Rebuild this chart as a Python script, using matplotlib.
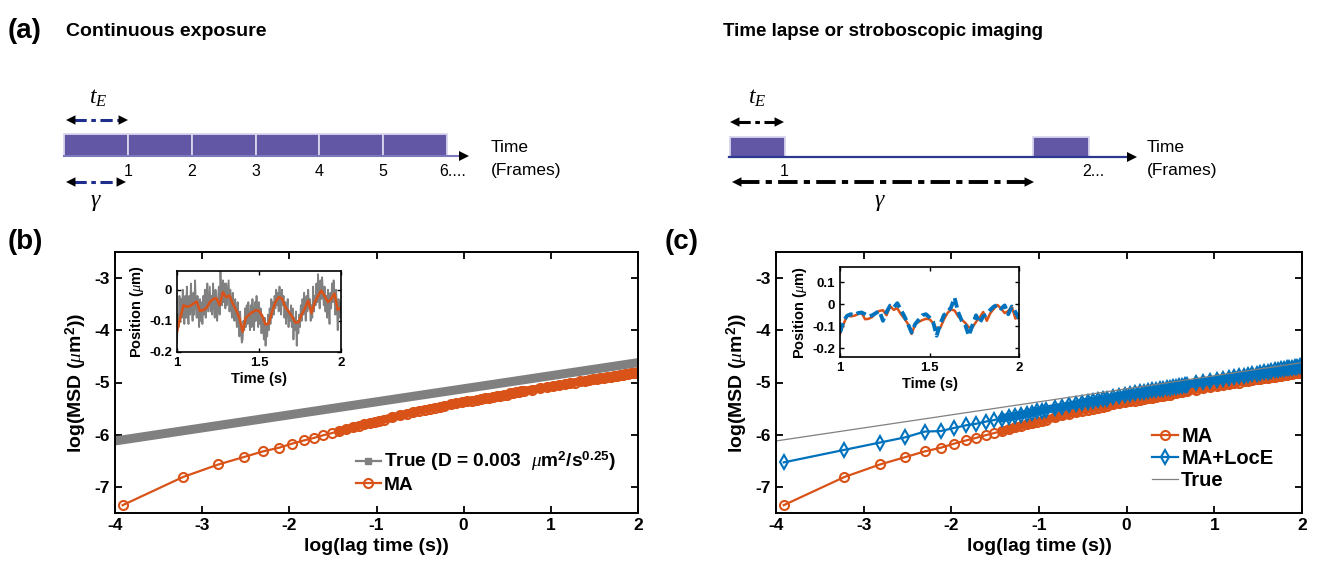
import numpy as np
import matplotlib
matplotlib.use("Agg")
import matplotlib.pyplot as plt
from matplotlib.patches import Rectangle
from matplotlib.lines import Line2D

plt.rcParams['font.family'] = ['Liberation Sans', 'DejaVu Sans']
plt.rcParams['mathtext.fontset'] = 'custom'
plt.rcParams['mathtext.rm'] = 'Liberation Sans'
plt.rcParams['mathtext.it'] = 'Liberation Serif:italic'
plt.rcParams['mathtext.bf'] = 'Liberation Sans:bold'
plt.rcParams['axes.unicode_minus'] = False

# ---- data ----
DT = 0.02  # s per frame
lag_frames = [1, 2, 3, 4, 5, 6, 7, 8, 9, 10, 11, 12, 13, 14, 15, 16, 17, 18, 19, 20,
              22, 24, 26, 28, 30, 32, 34, 36, 38, 40,
              43, 46, 49, 52, 55, 58, 61, 64, 67, 70, 73, 76, 79, 82, 85, 88, 91, 94, 97, 100,
              110, 120, 130, 140, 150, 160, 170, 180, 190, 200, 210, 220, 230, 240, 250,
              260, 270, 280, 290, 300, 310, 320, 330, 340, 350, 360, 369]

ma_logmsd = [-7.35, -6.81, -6.57, -6.43, -6.32, -6.25, -6.17, -6.11, -6.06, -6.01,
             -5.97, -5.93, -5.90, -5.86, -5.83, -5.80, -5.78, -5.75, -5.73, -5.71,
             -5.67, -5.63, -5.60, -5.57, -5.54, -5.52, -5.50, -5.48, -5.47, -5.45,
             -5.42, -5.40, -5.38, -5.36, -5.35, -5.33, -5.31, -5.30, -5.29, -5.27,
             -5.26, -5.25, -5.24, -5.23, -5.21, -5.20, -5.19, -5.18, -5.17, -5.16,
             -5.14, -5.11, -5.09, -5.07, -5.05, -5.03, -5.01, -5.00, -4.98, -4.97,
             -4.95, -4.94, -4.93, -4.92, -4.91, -4.90, -4.89, -4.88, -4.87, -4.86,
             -4.85, -4.84, -4.83, -4.82, -4.82, -4.81, -4.80]

locE_logmsd = [-6.53, -6.29, -6.15, -6.05, -5.94, -5.93, -5.87, -5.82, -5.79, -5.75,
               -5.72, -5.69, -5.66, -5.64, -5.62, -5.60, -5.58, -5.55, -5.54, -5.52,
               -5.49, -5.47, -5.44, -5.42, -5.39, -5.37, -5.36, -5.34, -5.32, -5.31,
               -5.28, -5.26, -5.24, -5.22, -5.21, -5.19, -5.18, -5.16, -5.15, -5.14,
               -5.13, -5.12, -5.11, -5.10, -5.09, -5.08, -5.07, -5.06, -5.05, -5.04,
               -5.01, -4.99, -4.97, -4.95, -4.93, -4.91, -4.90, -4.88, -4.87, -4.85,
               -4.84, -4.83, -4.82, -4.80, -4.79, -4.78, -4.77, -4.76, -4.75, -4.74,
               -4.73, -4.73, -4.72, -4.71, -4.70, -4.69, -4.69]

true_logt = [-4.0, -3.0, -2.0, -1.0, 0.0, 1.0, 2.0]
true_logmsd = [-6.12, -5.87, -5.62, -5.37, -5.12, -4.87, -4.62]

# inset traces, 1-2 s
ma_trace = [-0.135, -0.09, -0.05, -0.055, -0.052, -0.045, -0.038, -0.068, -0.066, -0.058,
            -0.04, -0.03, -0.027, -0.05, -0.008, -0.025, -0.018, -0.045, -0.065, -0.09,
            -0.135, -0.09, -0.08, -0.072, -0.066, -0.068, -0.085, -0.112, -0.108, -0.07,
            -0.04, -0.024, -0.028, -0.055, -0.07, -0.085, -0.105, -0.105, -0.08, -0.06,
            -0.035, -0.075, -0.04, -0.02, -0.003, -0.02, -0.04, -0.03, -0.012, -0.065,
            -0.058]
locE_trace = [-0.128, -0.075, -0.052, -0.045, -0.05, -0.04, -0.037, -0.045, -0.055, -0.05,
              -0.04, -0.03, -0.075, -0.035, -0.006, -0.015, 0.005, -0.025, -0.055, -0.09,
              -0.128, -0.09, -0.07, -0.05, -0.045, -0.06, -0.08, -0.143, -0.09, -0.05,
              -0.035, -0.015, 0.03, -0.035, -0.075, -0.095, -0.143, -0.095, -0.05, -0.085,
              -0.055, -0.045, -0.025, -0.01, -0.003, -0.02, -0.005, -0.045, -0.01, -0.035,
              -0.065]
raw_trace = [-0.17, -0.08, -0.12, -0.02, -0.10, -0.03, -0.09, 0.00, -0.07, -0.11,
             -0.02, -0.09, 0.01, -0.06, -0.11, -0.02, -0.08, 0.02, -0.05, -0.10,
             -0.01, -0.08, 0.03, -0.04, -0.09, -0.02, -0.06, -0.12, -0.03, -0.10,
             -0.04, -0.11, -0.02, -0.08, 0.00, -0.09, -0.05, 0.02, -0.07, -0.03,
             0.01, -0.07, -0.02, -0.08, 0.02, -0.04, -0.09, 0.00, -0.06, -0.10,
             -0.03, 0.01, -0.08, 0.06, -0.02, -0.05, 0.03, -0.04, 0.02, -0.06,
             0.02, -0.05, -0.01, 0.03, -0.07, 0.00, -0.04, -0.09, -0.01, -0.06,
             -0.10, -0.03, -0.08, -0.12, -0.04, -0.10, -0.15, -0.07, -0.13, -0.17,
             -0.16, -0.10, -0.13, -0.06, -0.12, -0.05, -0.11, -0.04, -0.10, -0.13,
             -0.05, -0.12, -0.03, -0.09, -0.13, -0.04, -0.10, -0.02, -0.08, -0.12,
             -0.04, -0.11, -0.06, -0.14, -0.08, -0.12, -0.16, -0.09, -0.18, -0.11,
             -0.15, -0.08, -0.13, -0.06, -0.11, -0.03, -0.09, -0.04, -0.08, -0.02,
             -0.06, 0.00, -0.05, -0.01, -0.07, 0.01, -0.04, -0.08, 0.00, -0.05,
             -0.02, -0.09, -0.04, -0.11, -0.06, -0.03, -0.12, -0.07, -0.10, -0.05,
             -0.12, -0.06, -0.16, -0.09, -0.13, -0.07, -0.18, -0.10, -0.14, -0.08,
             -0.12, -0.05, -0.10, -0.03, -0.08, -0.01, -0.06, -0.10, -0.02, -0.07,
             0.00, -0.06, -0.03, -0.10, -0.05, -0.09, 0.01, -0.07, -0.02, -0.05,
             0.02, -0.04, 0.05, -0.02, -0.06, 0.03, -0.03, 0.04, -0.01, -0.05,
             0.01, -0.07, -0.02, -0.09, 0.00, -0.05, -0.11, -0.01, -0.06, 0.02,
             -0.04, 0.03, -0.02, -0.08, 0.00, -0.05, -0.13, -0.03, -0.09, -0.04,
             -0.07]

frame_labels_cont = ['1', '2', '3', '4', '5', '6....']
frame_labels_lapse = ['1', '2...']

ORANGE = '#D95319'
BLUE = '#0072BD'
GRAY = '#808080'
PURPLE = '#6257A5'

log_lag = np.log(DT * np.array(lag_frames))
t_ma = np.linspace(1, 2, len(ma_trace))
t_raw = np.linspace(1, 2, len(raw_trace))
DENSE = 11  # from this index on the markers merge into one band

W, H = 1338, 573
fig = plt.figure(figsize=(W / 100, H / 100), dpi=100)


def fbox(l, t, r, b):
    return [l / W, 1 - b / H, (r - l) / W, (b - t) / H]


# ---- panel (a): schematic ----
ax_a = fig.add_axes([0, 1 - 230 / H, 1, 230 / H])
ax_a.set_xlim(0, W)
ax_a.set_ylim(230, 0)
ax_a.axis('off')


def head(x_tip, y, d, size=17):
    ax_a.annotate('', xy=(x_tip, y), xytext=(x_tip - d * 10, y),
                  arrowprops=dict(arrowstyle='-|>', color='k', lw=0,
                                  mutation_scale=size, shrinkA=0, shrinkB=0))


def dbl_arrow(x0, x1, y, color, lw, ls):
    ax_a.plot([x0 + 8, x1 - 8], [y, y], color=color, lw=lw, linestyle=ls)
    head(x0, y, -1)
    head(x1, y, 1)


ax_a.text(8, 31, '(a)', fontsize=20, fontweight='bold', va='center')
ax_a.text(66, 32, 'Continuous exposure', fontsize=14, fontweight='bold', va='center')
ax_a.text(723, 32, 'Time lapse or stroboscopic imaging', fontsize=13.5,
          fontweight='bold', va='center')

# continuous exposure
bw = (447 - 64) / len(frame_labels_cont)
ax_a.plot([64, 460], [156, 156], color='#7D77BC', lw=1.5)
head(469, 156, 1, 18)
for i, lab in enumerate(frame_labels_cont):
    ax_a.add_patch(Rectangle((64 + i * bw, 134), bw, 21.5, fc=PURPLE,
                             ec='#D8D5EC', lw=1.3))
    ax_a.text(64 + (i + 1) * bw + (6 if lab.endswith('.') else 0), 172, lab,
              fontsize=11.5, ha='center', va='center')
ax_a.text(491, 147, 'Time', fontsize=12.5, va='center')
ax_a.text(491, 170, '(Frames)', fontsize=12.5, va='center')
dbl_arrow(66, 128, 120, '#1F2E8C', 2.2, (0, (4, 1.5, 1.5, 1.5)))
dbl_arrow(66, 126, 182, '#1F2E8C', 2.2, (0, (4, 1.5, 1.5, 1.5)))
ax_a.text(98, 98, r'$t_E$', fontsize=17, ha='center', va='center')
ax_a.text(96, 202, r'$\gamma$', fontsize=17, ha='center', va='center')

# time lapse
ax_a.plot([729, 1128], [157, 157], color='#2B3990', lw=1.6)
head(1137, 157, 1, 18)
for i, lab in enumerate(frame_labels_lapse):
    x0 = 729.5 + i * 303.5
    ax_a.add_patch(Rectangle((x0, 136.5), 55.5, 20.5, fc=PURPLE, ec='#D8D5EC', lw=1.3))
ax_a.text(784, 172, frame_labels_lapse[0], fontsize=11.5, ha='center', va='center')
ax_a.text(1093, 172, frame_labels_lapse[1], fontsize=11.5, ha='center', va='center')
ax_a.text(1147, 147, 'Time', fontsize=12.5, va='center')
ax_a.text(1147, 170, '(Frames)', fontsize=12.5, va='center')
dbl_arrow(730, 784, 122, 'k', 2.2, (0, (4, 1.5, 1.5, 1.5)))
dbl_arrow(732, 1034, 182, 'k', 2.8, (0, (5, 1.6, 1.6, 1.6)))
ax_a.text(757, 98, r'$t_E$', fontsize=17, ha='center', va='center')
ax_a.text(880, 202, r'$\gamma$', fontsize=17, ha='center', va='center')


# ---- panels (b) and (c) ----
def style_main(ax):
    ax.set_xlim(-4, 2)
    ax.set_ylim(-7.5, -2.5)
    ax.set_xticks([-4, -3, -2, -1, 0, 1, 2])
    ax.set_yticks([-7, -6, -5, -4, -3])
    ax.tick_params(direction='in', top=True, right=True, length=5, width=1.3,
                   labelsize=12.5)
    for lab in ax.get_xticklabels() + ax.get_yticklabels():
        lab.set_fontweight('bold')
    for s in ax.spines.values():
        s.set_linewidth(1.4)
    ax.set_xlabel('log(lag time (s))', fontsize=14, fontweight='bold', labelpad=4)
    ax.set_ylabel(r'log(MSD ($\mu$m$^{\mathbf{2}}$))', fontsize=14,
                  fontweight='bold', labelpad=4)


def style_inset(ax, yticks, ylabels, ylim):
    ax.set_xlim(1, 2)
    ax.set_ylim(*ylim)
    ax.set_xticks([1, 1.5, 2])
    ax.set_xticklabels(['1', '1.5', '2'])
    ax.set_yticks(yticks)
    ax.set_yticklabels(ylabels)
    ax.tick_params(direction='in', top=True, right=True, length=3, width=1.0,
                   labelsize=9.5)
    for lab in ax.get_xticklabels() + ax.get_yticklabels():
        lab.set_fontweight('bold')
    for s in ax.spines.values():
        s.set_linewidth(1.2)
    ax.set_xlabel('Time (s)', fontsize=10.5, fontweight='bold', labelpad=2)
    ax.set_ylabel(r'Position ($\mu$m)', fontsize=10.5, fontweight='bold', labelpad=2)


def msd_series(ax, y, color, marker, ms, label):
    # dense tail of overlapping markers appears as one solid band
    ax.plot(log_lag[DENSE:], y[DENSE:], color=color, lw=6.0,
            solid_capstyle='round', solid_joinstyle='round')
    line, = ax.plot(log_lag, y, color=color, lw=1.6, marker=marker, ms=ms,
                    mfc='none', mew=1.5, label=label)
    return line


legend_kw = dict(bbox_transform=fig.transFigure, frameon=False, borderpad=0,
                 borderaxespad=0, handlelength=1.3, handletextpad=0.15,
                 labelspacing=0.15, loc='upper left')

ax_b = fig.add_axes(fbox(115, 252, 638, 513))
ax_b.plot(true_logt, true_logmsd, color=GRAY, lw=6.5, solid_capstyle='butt')
l_ma_b = msd_series(ax_b, ma_logmsd, ORANGE, 'o', 6.5, 'MA')
style_main(ax_b)
true_handle = Line2D([], [], color=GRAY, lw=1.6, marker='s', ms=4.5)
ax_b.legend([true_handle, l_ma_b],
            [r'True (D = 0.003  $\mu$m$^{\mathbf{2}}$/s$^{\mathbf{0.25}}$)', 'MA'],
            bbox_to_anchor=(356 / W, 1 - 450 / H),
            prop={'weight': 'bold', 'size': 13.8}, **legend_kw)

ax_c = fig.add_axes(fbox(776, 252, 1302, 513))
msd_series(ax_c, ma_logmsd, ORANGE, 'o', 6.5, 'MA')
msd_series(ax_c, locE_logmsd, BLUE, 'd', 7.5, 'MA+LocE')
ax_c.plot(true_logt, true_logmsd, color=GRAY, lw=0.9, label='True')
style_main(ax_c)
ax_c.legend(bbox_to_anchor=(1152 / W, 1 - 427 / H),
            prop={'weight': 'bold', 'size': 14.5}, **legend_kw)

# insets
ax_bi = fig.add_axes(fbox(177, 271, 341, 352))
ax_bi.plot(t_raw, raw_trace, color=GRAY, lw=1.3)
ax_bi.plot(t_ma, ma_trace, color=ORANGE, lw=1.8)
style_inset(ax_bi, [-0.2, -0.1, 0], ['-0.2', '-0.1', '0'], (-0.2, 0.06))

ax_ci = fig.add_axes(fbox(840, 267, 1019, 357))
ax_ci.plot(t_ma, ma_trace, color=ORANGE, lw=1.8)
ax_ci.plot(t_ma, locE_trace, color=BLUE, lw=2.8, linestyle=(0, (2.5, 1.2)))
style_inset(ax_ci, [-0.2, -0.1, 0, 0.1], ['-0.2', '-0.1', '0', '0.1'], (-0.24, 0.17))

fig.text(8 / W, 1 - 242 / H, '(b)', fontsize=20, fontweight='bold', va='center')
fig.text(665 / W, 1 - 242 / H, '(c)', fontsize=20, fontweight='bold', va='center')

fig.savefig('out.png', dpi=100)
